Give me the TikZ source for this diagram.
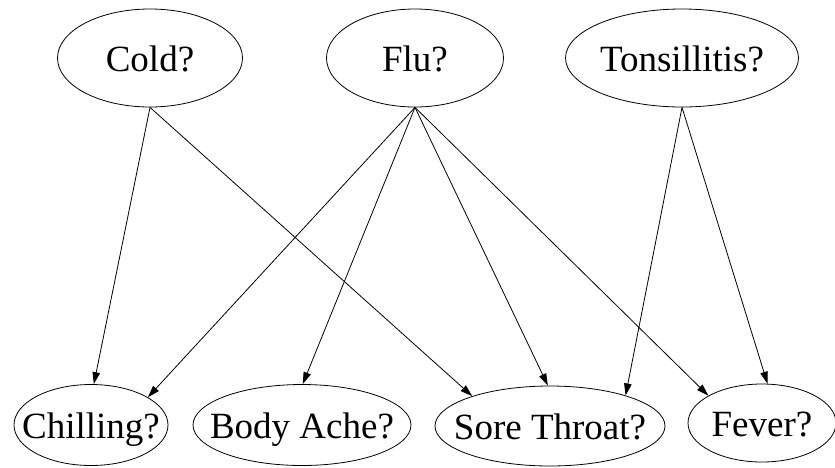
\documentclass[tikz,border=0pt]{standalone}
\usepackage{fontspec}
\setmainfont{Liberation Serif}
\usetikzlibrary{shapes.geometric,arrows.meta}
\begin{document}
\begin{tikzpicture}[x=1pt,y=-1pt,
  var/.style={draw, ellipse, line width=0.8pt, inner sep=0pt,
    label={[font=\fontsize{37}{40}\selectfont, inner sep=0pt,
            text height=24pt, text depth=0pt, yshift=-1pt]center:#1}},
  link/.style={line width=0.8pt, -{Triangle[length=12pt,width=7.5pt]}}]
  \useasboundingbox (0,0) rectangle (835,467);
  % causes
  \node[var=Cold?, minimum width=185pt, minimum height=98pt] (cold) at (150,58) {};
  \node[var=Flu?, minimum width=177pt, minimum height=98pt] (flu) at (415,58) {};
  \node[var=Tonsillitis?, minimum width=233pt, minimum height=98pt] (tons) at (682,58) {};
  % symptoms
  \node[var=Chilling?, minimum width=154pt, minimum height=81pt] (chill) at (91,425) {};
  \node[var=Body Ache?, minimum width=218pt, minimum height=81pt] (ache) at (302,425) {};
  \node[var=Sore Throat?, minimum width=230pt, minimum height=80pt] (sore) at (550,426) {};
  \node[var=Fever?, minimum width=148pt, minimum height=78pt] (fever) at (762,423) {};
  % dependencies
  \draw[link] (cold.south) -- (chill.86);
  \draw[link] (cold.south) -- (sore.159);
  \draw[link] (flu.south) -- (chill.26);
  \draw[link] (flu.south) -- (ache.89);
  \draw[link] (flu.south) -- (sore.93);
  \draw[link] (flu.south) -- (fever.153);
  \draw[link] (tons.south) -- (sore.22);
  \draw[link] (tons.south) -- (fever.82);
\end{tikzpicture}
\end{document}
